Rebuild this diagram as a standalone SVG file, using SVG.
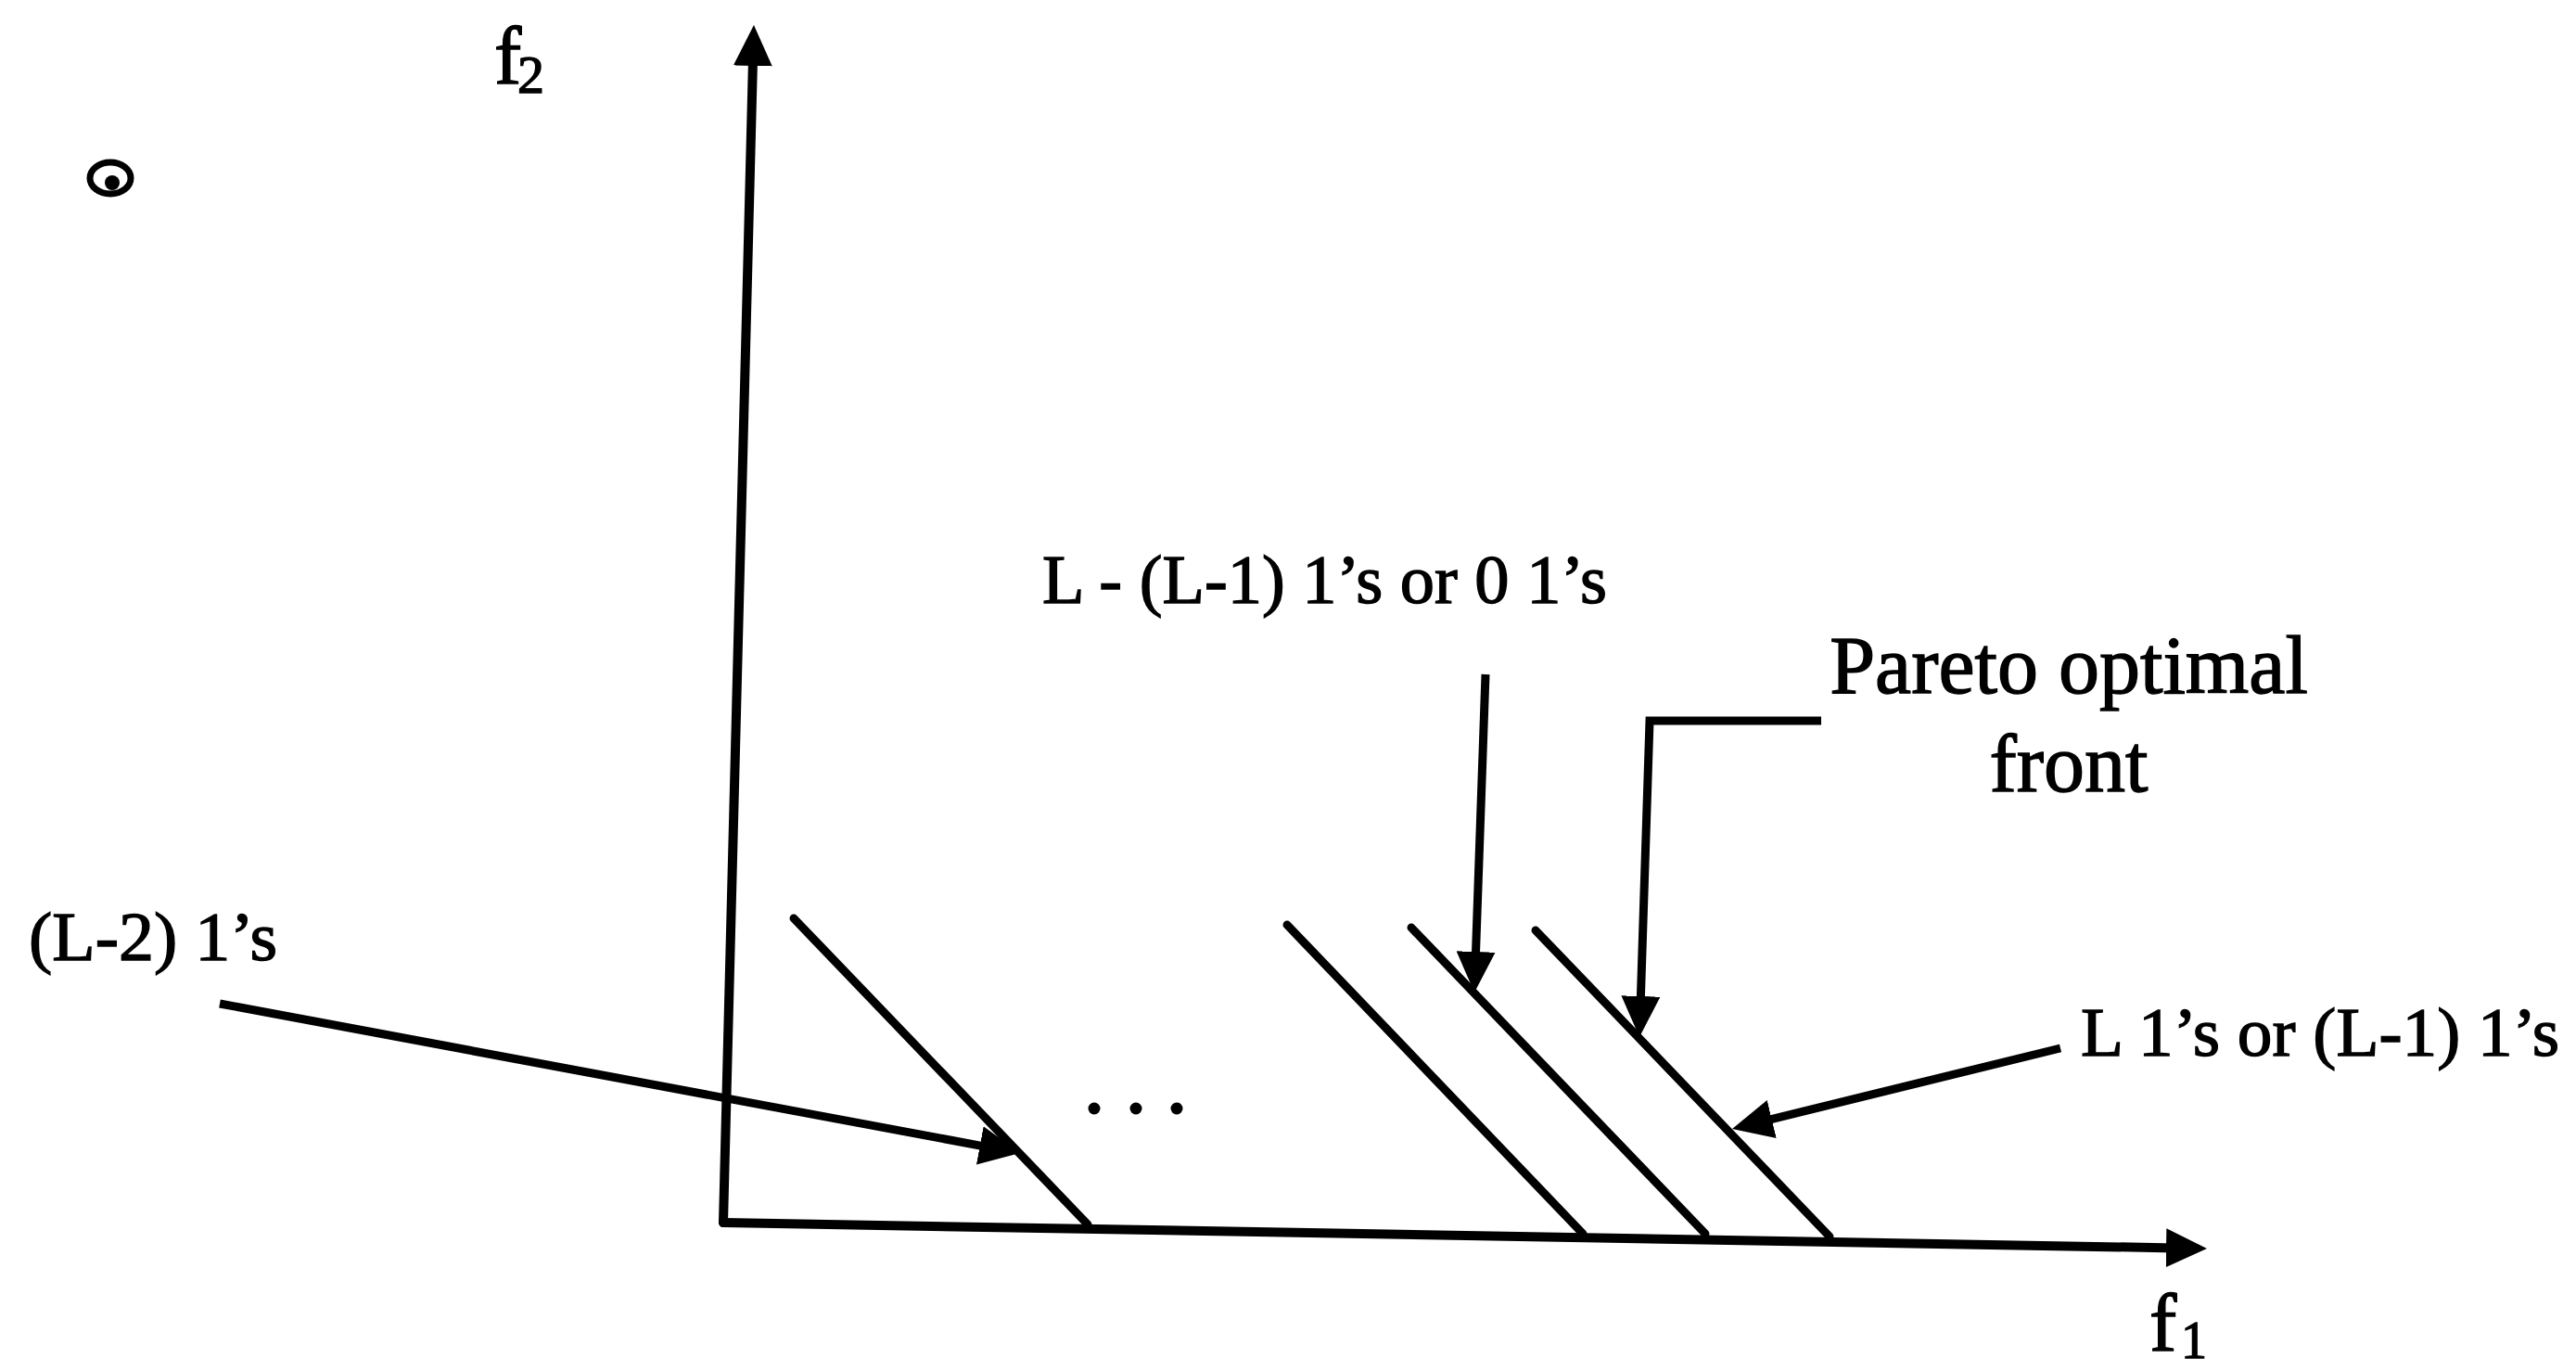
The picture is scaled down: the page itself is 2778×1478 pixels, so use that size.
<svg xmlns="http://www.w3.org/2000/svg" width="2778" height="1478" viewBox="0 0 2778 1478">
  <style>
    .ln { stroke: #000; stroke-width: 9; fill: none; stroke-linecap: round; }
    .ax { stroke: #000; stroke-width: 10; fill: none; stroke-linecap: round; }
    .ld { stroke: #000; stroke-width: 9; fill: none; stroke-linecap: butt; }
    .t { font-family: "Liberation Serif", "Times New Roman", serif; fill: #000; stroke: #000; stroke-width: 1.4; }
  </style>
  <defs>
    <marker id="ah" viewBox="0 0 44 42" markerWidth="44" markerHeight="42" refX="10" refY="21" orient="auto" markerUnits="userSpaceOnUse">
      <path d="M0,0 L44,21 L0,42 Z" fill="#000"/>
    </marker>
  </defs>
  <rect width="2778" height="1478" fill="#fff"/>

  <g id="axes">
    <path class="ax" d="M780,1318 L812.1,61" marker-end="url(#ah)"/>
    <path class="ax" d="M780,1318 L2346,1345.4" marker-end="url(#ah)"/>
    <text class="t" x="533" y="90" font-size="88">f<tspan x="558" y="100" font-size="58">2</tspan></text>
    <text class="t" x="2318" y="1456" font-size="88">f<tspan x="2352" y="1464" font-size="56">1</tspan></text>
  </g>

  <g id="mark">
    <ellipse cx="119" cy="192" rx="22" ry="17" fill="none" stroke="#000" stroke-width="7"/>
    <circle cx="121" cy="197" r="8" fill="#000"/>
  </g>

  <g id="front-1">
    <line class="ln" x1="856" y1="990" x2="1173" y2="1320"/>
  </g>
  <g id="front-2">
    <line class="ln" x1="1388" y1="997" x2="1707" y2="1330"/>
  </g>
  <g id="front-3">
    <line class="ln" x1="1522" y1="1000" x2="1839" y2="1330"/>
  </g>
  <g id="front-4">
    <line class="ln" x1="1656" y1="1003" x2="1973" y2="1333"/>
  </g>

  <g id="ellipsis">
    <circle cx="1180" cy="1195" r="6.5" fill="#000"/>
    <circle cx="1225" cy="1195" r="6.5" fill="#000"/>
    <circle cx="1269" cy="1195" r="6.5" fill="#000"/>
  </g>

  <g id="label-l2">
    <text class="t" x="31" y="1035" font-size="75" textLength="268" lengthAdjust="spacingAndGlyphs">(L-2) 1’s</text>
  </g>
  <g id="label-l1">
    <text class="t" x="1124" y="650" font-size="73" textLength="609" lengthAdjust="spacingAndGlyphs">L - (L-1) 1’s or 0 1’s</text>
  </g>
  <g id="label-pareto">
    <text class="t" x="2231" y="747" font-size="88" text-anchor="middle">Pareto optimal</text>
    <text class="t" x="2231" y="853" font-size="88" text-anchor="middle">front</text>
  </g>
  <g id="label-l">
    <text class="t" x="2244" y="1138" font-size="75" textLength="516" lengthAdjust="spacingAndGlyphs">L 1’s or (L-1) 1’s</text>
  </g>

  <g id="connectors">
    <path class="ld" d="M237,1082 L1066.6,1236.8" marker-end="url(#ah)"/>
    <path class="ld" d="M1602,727 L1591.2,1036" marker-end="url(#ah)"/>
    <path class="ld" d="M1964,777 L1779,777 L1769.1,1084" marker-end="url(#ah)"/>
    <path class="ld" d="M2222,1130 L1901,1208.9" marker-end="url(#ah)"/>
  </g>
</svg>
